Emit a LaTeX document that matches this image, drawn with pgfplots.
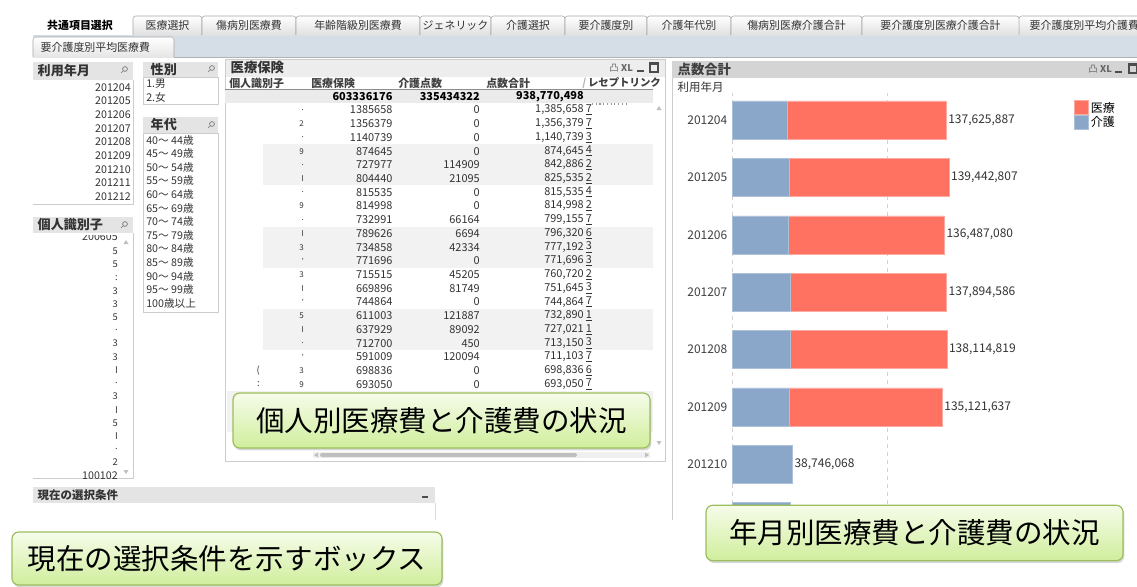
\documentclass[border=0pt]{standalone}
\usepackage{fontspec}
\setmainfont{Noto Sans CJK JP}
\usepackage{pgfplots}
\usepackage{pgfplotstable}
\pgfplotsset{compat=1.18}
\usetikzlibrary{shadows}

\definecolor{iryo}{HTML}{FF7262}
\definecolor{kaigo}{HTML}{8AA6C8}
\definecolor{gridc}{HTML}{D2D2D2}
\definecolor{hdr}{HTML}{E4E4E4}
\definecolor{band}{HTML}{D5DDE6}
\definecolor{rowbg}{HTML}{F2F2F2}
\definecolor{txt}{HTML}{333333}
\definecolor{cborder}{HTML}{9CBE5E}
\definecolor{ctop}{HTML}{F6FCEA}
\definecolor{cbot}{HTML}{D0EE9C}

\newcommand\fs[1]{\fontsize{#1}{#1}\selectfont}

% monthly points (kaigo + iryo = total shown as label); tip is a 1-unit stub carrying the label
\pgfplotstableread{
pos kaigo    iryo      tip lab
7   35600000 102025887 1   137,625,887
6   36900000 102542807 1   139,442,807
5   36400000 100087080 1   136,487,080
4   37300000 100594586 1   137,894,586
3   37300000 100814819 1   138,114,819
2   36900000 98221637  1   135,121,637
1   38746068 0         1   38,746,068
0   37300000 0         1   {}
}\monthly

\newcommand\tab[3]{%
  \shade[top color=white,bottom color=black!12] (#1,35) rectangle (#2,16);
  \draw[black!35,rounded corners=2pt] (#1,35) -- (#1,16) -- (#2,16) -- (#2,35);
  \node[font=\fs{8.2},text=txt] at ({(#1+#2)/2},25.5) {#3};
}
\newcommand\lens[2]{\draw[black!55,line width=0.5pt] (#1,#2) circle (1.8pt) (#1-1.4,#2+1.4) -- (#1-4,#2+4);}

\begin{document}
\begin{tikzpicture}
\useasboundingbox (0,0) rectangle (852.75pt,-439.5pt);
\fill[white] (0,0) rectangle (852.75pt,-439.5pt);

\begin{scope}[x=0.75pt,y=-0.75pt]
\clip (0,0) rectangle (1137,586);
% ---- tabs
\fill[band] (33,35) rectangle (1137,57);
\draw[black!30] (33,57) -- (1137,57);
\fill[white] (33,14) rectangle (133,35);
\node[font=\fs{8.2}\bfseries,text=black] at (80,25.5) {共通項目選択};
\foreach \a/\b/\l in {133/202/医療選択, 202/296/傷病別医療費, 296/420/年齢階級別医療費,
    420/491/ジェネリック, 491/565/介護選択, 565/647/要介護度別, 647/731/介護年代別,
    731/862/傷病別医療介護合計, 862/1019/要介護度別医療介護合計}
  {\tab{\a}{\b}{\l}}
\shade[top color=white,bottom color=black!12] (1019,35) rectangle (1150,16);
\draw[black!35,rounded corners=2pt] (1019,35) -- (1019,16) -- (1150,16);
\node[font=\fs{8.2},text=txt,anchor=west] at (1025,25.5) {要介護度別平均介護費};
\shade[top color=white,bottom color=black!10] (33,37) rectangle (174,57);
\draw[black!35,rounded corners=2pt] (33,57) -- (33,37) -- (174,37) -- (174,57);
\node[font=\fs{8.2},text=txt,anchor=west] at (36,47) {要介護度別平均医療費};

% ---- list box: 利用年月
\fill[hdr] (33,62) rectangle (133,80);
\node[font=\fs{9.8}\bfseries,text=black!80,anchor=west] at (33,71) {利用年月};
\lens{125}{69}
\draw[black!20] (133,80) -- (133,204) -- (33,204);
\foreach \m [count=\k from 0] in {201204,201205,201206,201207,201208,201209,201210,201211,201212}
  \node[font=\fs{8},text=txt,anchor=east,inner sep=0] at (131,{87.3+13.67*\k}) {\m};

% ---- 性別
\fill[hdr] (143,62) rectangle (218,77);
\node[font=\fs{9.8}\bfseries,text=black!80,anchor=west] at (146,69.5) {性別};
\lens{212}{68}
\draw[black!20] (143,77) rectangle (218,104);
\node[font=\fs{8},text=txt,anchor=west,inner sep=0] at (146,84) {1.男};
\node[font=\fs{8},text=txt,anchor=west,inner sep=0] at (146,97.7) {2.女};

% ---- 年代
\fill[hdr] (143,117) rectangle (218,133);
\node[font=\fs{9.8}\bfseries,text=black!80,anchor=west] at (146,125) {年代};
\lens{212}{124}
\draw[black!20] (143,133) rectangle (218,312);
\foreach \m [count=\k from 0] in {40～ 44歳,45～ 49歳,50～ 54歳,55～ 59歳,60～ 64歳,65～ 69歳,
    70～ 74歳,75～ 79歳,80～ 84歳,85～ 89歳,90～ 94歳,95～ 99歳,100歳以上}
  \node[font=\fs{8},text=txt,anchor=west,inner sep=0] at (146,{140+13.61*\k}) {\m};

% ---- 個人識別子
\fill[hdr] (33,217) rectangle (133,233);
\node[font=\fs{9.8}\bfseries,text=black!80,anchor=west] at (33,225) {個人識別子};
\lens{125}{224}
\draw[black!20] (133,233) -- (133,478) -- (33,478);
\begin{scope}
\clip (33,235) rectangle (133,478);
\node[font=\fs{8},text=txt,anchor=east,inner sep=0] at (118,237) {200605};
\foreach \m [count=\k from 1] in {5,5,:,3,3,5,.,3,3,I,.,3,I,5,I,.,2}
  \node[font=\fs{7},text=txt,anchor=east,inner sep=0] at (118,{238+13.2*\k}) {\m};
\node[font=\fs{8},text=txt,anchor=east,inner sep=0] at (118,476) {100102};
\end{scope}
\fill[black!25] (126,240) -- (123.5,244) -- (128.5,244) -- cycle;
\fill[black!25] (126,474) -- (123.5,470) -- (128.5,470) -- cycle;

% ---- 現在の選択条件
\fill[hdr] (33,487) rectangle (435,503);
\node[font=\fs{8.6}\bfseries,text=black!80,anchor=west] at (33,495) {現在の選択条件};
\draw[black!70,line width=1pt] (422,497) -- (428,497);
\draw[black!15] (435,503) -- (435,520);

% ---- table panel 医療保険
\draw[black!20] (225,59) rectangle (665,461);
\fill[black!7] (225.5,59.5) rectangle (664.5,77);
\node[font=\fs{10}\bfseries,text=black!80,anchor=west] at (226,67.5) {医療保険};
\node[font=\fs{7},text=black!60] at (614,68) {凸};
\node[font=\fs{7}\bfseries,text=black!60] at (627,68) {XL};
\draw[black!70,line width=1pt] (637,71) -- (644,71);
\draw[black!70,line width=0.8pt] (650,63) rectangle (658,72);
\draw[black!70,line width=1.6pt] (650,63.5) -- (658,63.5);
\foreach \h/\x in {個人識別子/229, 医療保険/311, 介護点数/398, 点数合計/486}
  \node[font=\fs{8.2}\bfseries,text=black!75,anchor=west,inner sep=0] at (\x,83.3) {\h};
\node[font=\fs{7.8}\bfseries,text=black!75,anchor=west,inner sep=0] at (582,83.3) {{\color{black!30}/}\,レセプトリンク};
\draw[black!45] (225,89) -- (653,89);
\fill[black!8] (225,89.5) rectangle (653,103);
\node[font=\fs{8.2}\bfseries,anchor=east,inner sep=0] at (392.7,96.7) {603336176};
\node[font=\fs{8.2}\bfseries,anchor=east,inner sep=0] at (480,96.7) {335434322};
\node[font=\fs{8.2}\bfseries,anchor=east,inner sep=0] at (584,96.7) {938,770,498};
\foreach \r in {3,9,15}
  \fill[rowbg] (263,{110+13.72*\r-6.86}) rectangle (653,{110+13.72*(\r+3)-6.86});
\fill[rowbg] (227,{110+13.72*21-6.86}) rectangle (653,{110+13.72*24-6.86});
\foreach \m/\k/\t/\r/\l [count=\i from 0] in {
  1385658/0/{1,385,658}/7/., 1356379/0/{1,356,379}/7/2, 1140739/0/{1,140,739}/3/.,
  874645/0/{874,645}/4/9, 727977/114909/{842,886}/2/., 804440/21095/{825,535}/2/I,
  815535/0/{815,535}/4/., 814998/0/{814,998}/2/9, 732991/66164/{799,155}/7/.,
  789626/6694/{796,320}/6/I, 734858/42334/{777,192}/3/3, 771696/0/{771,696}/3/',
  715515/45205/{760,720}/2/3, 669896/81749/{751,645}/3/I, 744864/0/{744,864}/7/',
  611003/121887/{732,890}/1/5, 637929/89092/{727,021}/1/I, 712700/450/{713,150}/3/.,
  591009/120094/{711,103}/7/', 698836/0/{698,836}/6/3, 693050/0/{693,050}/7/9}
{
  \node[font=\fs{8.2},text=txt,anchor=east,inner sep=0] at (392.7,{110+13.72*\i}) {\m};
  \node[font=\fs{8.2},text=txt,anchor=east,inner sep=0] at (480,{110+13.72*\i}) {\k};
  \node[font=\fs{8.2},text=txt,anchor=east,inner sep=0] at (584,{110+13.72*\i}) {\t};
  \node[font=\fs{8.2},text=txt,anchor=west,inner sep=0] at (585.5,{110+13.72*\i}) {\underline{\r}};
  \node[font=\fs{6},text=txt,anchor=east,inner sep=0] at (304,{110+13.72*\i}) {\l};
}
\node[font=\fs{7},text=txt,anchor=east,inner sep=0] at (260,{110+13.72*19}) {(};
\node[font=\fs{7},text=txt,anchor=east,inner sep=0] at (260,{110+13.72*20}) {:};
\draw[black!40,dotted,line width=0.8pt] (592,104) -- (626,104);
\fill[black!25] (659,106) -- (656.5,110) -- (661.5,110) -- cycle;
\fill[black!25] (659,445) -- (656.5,441) -- (661.5,441) -- cycle;
\fill[black!6] (313,452) rectangle (650,458);
\fill[black!25,rounded corners=1.5pt] (320,453) rectangle (577,457);
\fill[black!25] (314,455) -- (318,452.5) -- (318,457.5) -- cycle;
\fill[black!25] (649,455) -- (645,452.5) -- (645,457.5) -- cycle;

% ---- chart panel frame
\fill[black!17] (672,61) rectangle (1137,78);
\node[font=\fs{10}\bfseries,text=black!75,anchor=west] at (673,69.5) {点数合計};
\node[font=\fs{7},text=black!60] at (1093,69) {凸};
\node[font=\fs{7}\bfseries,text=black!60] at (1106,69) {XL};
\draw[black!70,line width=1pt] (1115,72) -- (1122,72);
\draw[black!70,line width=0.8pt] (1129,64) rectangle (1137,73);
\draw[black!70,line width=1.6pt] (1129,64.5) -- (1137,64.5);
\draw[black!20] (672,78) -- (672,520);
\node[font=\fs{8.6},text=txt,anchor=west] at (673,86.7) {利用年月};
\end{scope}

% ---- chart
\begin{scope}
\clip (502.5pt,-58.5pt) rectangle (852.75pt,-390pt);
\begin{axis}[
  at={(549pt,-390pt)}, anchor=south west,
  scale only axis, width=186.6pt, height=320.25pt,
  xbar stacked, bar width=28.5pt,
  xmin=0, xmax=160000000, ymin=0.03, ymax=7.47,
  xtick={0,100000000}, xticklabels={}, scaled x ticks=false,
  xmajorgrids, grid style={dashed, draw=gridc, line width=0.5pt},
  ytick={0,...,7},
  yticklabels={201211,201210,201209,201208,201207,201206,201205,201204},
  yticklabel style={font=\fs{9}, text=black!75},
  major tick length=0pt, axis line style={draw=none},
  legend style={at={(1.372,0.986)}, anchor=north west, draw=none, fill=none,
    font=\fs{9}, row sep=-2.2pt, inner sep=0pt},
  legend cell align=left,
  legend image code/.code={\draw[#1] (0pt,-5pt) rectangle (10.5pt,5.5pt);},
  reverse legend,
]
\addplot[fill=kaigo, draw=kaigo!70!white] table[x=kaigo, y=pos] {\monthly};
\addplot[fill=iryo, draw=iryo!60!white] table[x=iryo, y=pos] {\monthly};
\addplot[draw=none, fill=none, forget plot,
  nodes near coords, point meta=explicit symbolic,
  nodes near coords style={font=\fs{9}, text=black!80, anchor=west, inner sep=1.5pt}]
  table[x=tip, y=pos, meta=lab] {\monthly};
\legend{介護,医療}
\end{axis}
\end{scope}

% ---- callouts
\begin{scope}[x=0.75pt,y=-0.75pt]
\tikzset{callout/.style={rounded corners=5pt, draw=cborder, line width=0.9pt,
  top color=ctop, bottom color=cbot,
  drop shadow={opacity=0.3, shadow xshift=1pt, shadow yshift=-1.8pt},
  font=\fs{21.4}, text=black, inner sep=0pt}}
\node[callout, minimum width=312.75pt, minimum height=41.25pt] at (441.5,420.5) {個人別医療費と介護費の状況};
\node[callout, minimum width=312.75pt, minimum height=41.5pt] at (914.5,533) {年月別医療費と介護費の状況};
\node[callout, minimum width=322.5pt, minimum height=39.75pt] at (227,558.5) {現在の選択条件を示すボックス};
\end{scope}
\end{tikzpicture}
\end{document}
